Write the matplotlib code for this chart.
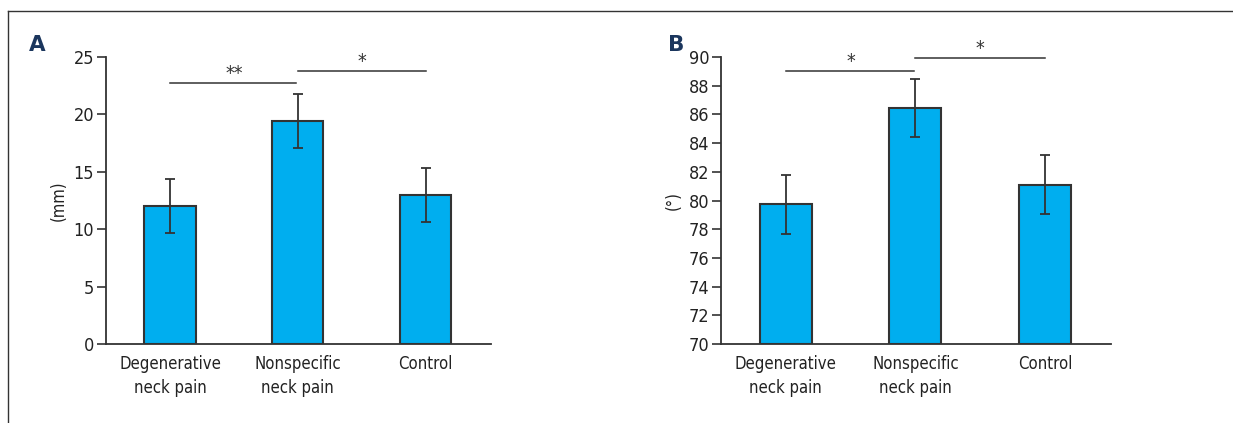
import matplotlib
matplotlib.use("Agg")
import matplotlib.pyplot as plt
from matplotlib.lines import Line2D

plt.rcParams['font.family'] = ['DejaVu Sans']
plt.rcParams['font.stretch'] = 'condensed'

# data
groups = ["Degenerative\nneck pain", "Nonspecific\nneck pain", "Control"]
dist_mm = [12.0, 19.4, 12.95]
dist_err = [2.35, 2.35, 2.35]
angle_deg = [79.75, 86.45, 81.1]
angle_err = [2.05, 2.05, 2.05]
# significance brackets: (left bar, right bar, height, label)
sig_a = [(0, 1, 22.75, "**"), (1, 2, 23.8, "*")]
sig_b = [(0, 1, 89.05, "*"), (1, 2, 89.9, "*")]

bar_color = "#00AEEF"
dark = "#333333"
navy = "#1b365d"

fig = plt.figure(figsize=(12.33, 4.23), dpi=100)


def panel(rect, vals, errs, ylim, yticks, ylabel, sigs, letter, letter_x):
    ax = fig.add_axes(rect)
    x = list(range(len(vals)))
    ax.bar(x, [v - ylim[0] for v in vals], bottom=ylim[0], width=0.4,
           color=bar_color, edgecolor=dark, linewidth=1.5, zorder=2)
    ax.errorbar(x, vals, yerr=errs, fmt="none", ecolor=dark, elinewidth=1.3,
                capsize=3.3, capthick=1.3, zorder=3)
    ax.set_xlim(-0.5, 2.51)
    ax.set_ylim(*ylim)
    ax.set_yticks(yticks)
    ax.set_xticks(x)
    ax.set_xticklabels(groups, fontsize=12, linespacing=1.45, color="#222222")
    ax.tick_params(axis="y", length=6.5, width=1.2, color=dark, labelsize=13,
                   pad=2, labelcolor="#222222")
    ax.tick_params(axis="x", length=0, pad=8)
    for s in ["top", "right"]:
        ax.spines[s].set_visible(False)
    for s in ["left", "bottom"]:
        ax.spines[s].set_linewidth(1.3)
        ax.spines[s].set_color(dark)
    ax.set_ylabel(ylabel, fontsize=12, labelpad=4, color="#222222")
    for a, b, h, lab in sigs:
        ax.plot([a, b - 0.01 if a == 0 else b], [h, h], color=dark, lw=1.1, clip_on=False)
        ax.text((a + b) / 2, h, lab, ha="center", va="bottom", fontsize=14, color=dark)
    fig.text(letter_x, 0.893, letter, fontsize=15.5, fontweight="bold", color=navy,
             ha="left", va="center", stretch="normal")
    return ax


panel([0.086, 0.1868, 0.312, 0.6784], dist_mm, dist_err, (0, 25),
      [0, 5, 10, 15, 20, 25], "(mm)", sig_a, "A", 0.0235)
panel([0.5848, 0.1868, 0.3162, 0.6784], angle_deg, angle_err, (70, 90),
      list(range(70, 91, 2)), "(°)", sig_b, "B", 0.5415)

# frame lines of the original figure
fig.add_artist(Line2D([8 / 1233, 1], [1 - 11 / 423] * 2, color=dark, lw=1.0))
fig.add_artist(Line2D([8 / 1233] * 2, [0, 1 - 11 / 423], color=dark, lw=1.0))

fig.savefig("out.png", dpi=100)
